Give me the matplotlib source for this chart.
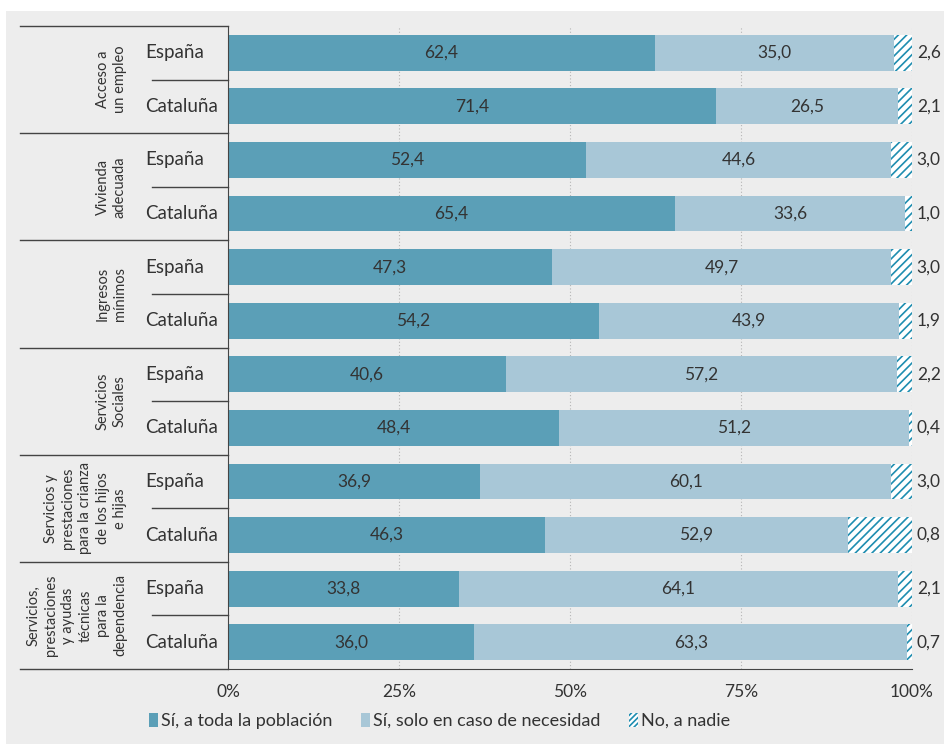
import matplotlib
matplotlib.use("Agg")
from matplotlib import pyplot as plt
from matplotlib.patches import Patch, Rectangle
import numpy as np

plt.rcParams['font.family'] = ['Lato', 'DejaVu Sans']
plt.rcParams['hatch.linewidth'] = 1.2

grupos = ["Acceso a\nun empleo", "Vivienda\nadecuada", "Ingresos\nmínimos",
          "Servicios\nSociales",
          "Servicios y\nprestaciones\npara la crianza\nde los hijos\ne hijas",
          "Servicios,\nprestaciones\ny ayudas\ntécnicas\npara la\ndependencia"]
territorios = ["España", "Cataluña"]

toda = [62.4, 71.4, 52.4, 65.4, 47.3, 54.2, 40.6, 48.4, 36.9, 46.3, 33.8, 36.0]
necesidad = [35.0, 26.5, 44.6, 33.6, 49.7, 43.9, 57.2, 51.2, 60.1, 52.9, 64.1, 63.3]
nadie = [2.6, 2.1, 3.0, 1.0, 3.0, 1.9, 2.2, 0.4, 3.0, 0.8, 2.1, 0.7]
# anchura dibujada del segundo tramo (en el original, Cataluña/crianza no coincide con su etiqueta)
necesidad_barra = [35.0, 26.5, 44.6, 33.6, 49.7, 43.9, 57.2, 51.2, 60.1, 44.3, 64.1, 63.3]

c_toda = "#5b9fb7"
c_nec = "#a8c7d7"
c_nadie = "#1e8db0"
txt = "#333333"
linea = "#444444"

fig = plt.figure(figsize=(9.44, 7.44), dpi=100)
fig.patch.set_facecolor("white")
fig.patches.append(Rectangle((6 / 944, 0), 1, 1 - 11 / 744, transform=fig.transFigure,
                             facecolor="#ededed", edgecolor="none", zorder=-10))

ax = fig.add_axes([228 / 944, 75 / 744, 684 / 944, 643 / 744])
ax.set_facecolor("none")

y = np.arange(len(toda))
izq2 = np.array(toda)
izq3 = izq2 + np.array(necesidad_barra)
ax.barh(y, toda, height=0.67, color=c_toda, zorder=3)
ax.barh(y, necesidad_barra, left=izq2, height=0.67, color=c_nec, zorder=3)
ax.barh(y, 100 - izq3, left=izq3, height=0.67, color="white", edgecolor=c_nadie,
        hatch="////", linewidth=0, zorder=3)

for i in range(len(toda)):
    ax.text(toda[i] / 2, y[i], f"{toda[i]:.1f}".replace(".", ","), ha="center", va="center",
            fontsize=12.5, color=txt, zorder=4)
    ax.text(izq2[i] + necesidad_barra[i] / 2, y[i], f"{necesidad[i]:.1f}".replace(".", ","),
            ha="center", va="center", fontsize=12.5, color=txt, zorder=4)
    ax.text(100.7, y[i], f"{nadie[i]:.1f}".replace(".", ","), ha="left", va="center",
            fontsize=12.5, color=txt, zorder=4)
    ax.text((145 - 228) / 684, y[i], territorios[i % 2], ha="left", va="center", fontsize=13.5,
            color=txt, transform=ax.get_yaxis_transform())

ax.set_xlim(0, 100)
ax.set_ylim(11.5, -0.5)
ax.set_yticks([])
ax.set_xticks([0, 25, 50, 75, 100])
ax.set_xticklabels(["0%", "25%", "50%", "75%", "100%"], fontsize=12.5, color=txt)
ax.set_xticks([0, 100], minor=True)
ax.tick_params(axis="x", which="major", length=0, pad=11)
ax.tick_params(axis="x", which="minor", length=4, color=linea)
ax.grid(axis="x", color="#b5b5b5", linestyle=(0, (1, 2)), linewidth=0.8, zorder=0)
for s in ["top", "right"]:
    ax.spines[s].set_visible(False)
ax.spines["left"].set_color(linea)
ax.spines["bottom"].set_color(linea)
ax.spines["left"].set_zorder(5)

# separadores y etiquetas de grupo
tr = ax.get_yaxis_transform()
x_g = (20 - 228) / 684
x_t = (152 - 228) / 684
for g in range(len(grupos) + 1):
    ax.plot([x_g, 0], [g * 2 - 0.5] * 2, color=linea, lw=1.0, transform=tr, clip_on=False)
for g in range(len(grupos)):
    ax.plot([x_t, 0], [g * 2 + 0.5] * 2, color=linea, lw=1.0, transform=tr, clip_on=False)
    ax.text((127 - 228) / 684, g * 2 + 0.5, grupos[g], rotation=90, ha="right", va="center",
            multialignment="center", fontsize=10.5, linespacing=1.3, color=txt, transform=tr)

handles = [Patch(facecolor=c_toda, edgecolor="none"),
           Patch(facecolor=c_nec, edgecolor="none"),
           Patch(facecolor="white", edgecolor=c_nadie, hatch="//////", linewidth=0)]
fig.legend(handles, ["Sí, a toda la población", "Sí, solo en caso de necesidad", "No, a nadie"],
           loc="center left", bbox_to_anchor=(149 / 944, 1 - 721 / 744), ncol=3, frameon=False,
           handlelength=0.5, handleheight=0.8, handletextpad=0.15, columnspacing=1.6,
           fontsize=13, labelcolor=txt, borderaxespad=0, borderpad=0)

fig.savefig("out.png", dpi=100, facecolor=fig.get_facecolor())
